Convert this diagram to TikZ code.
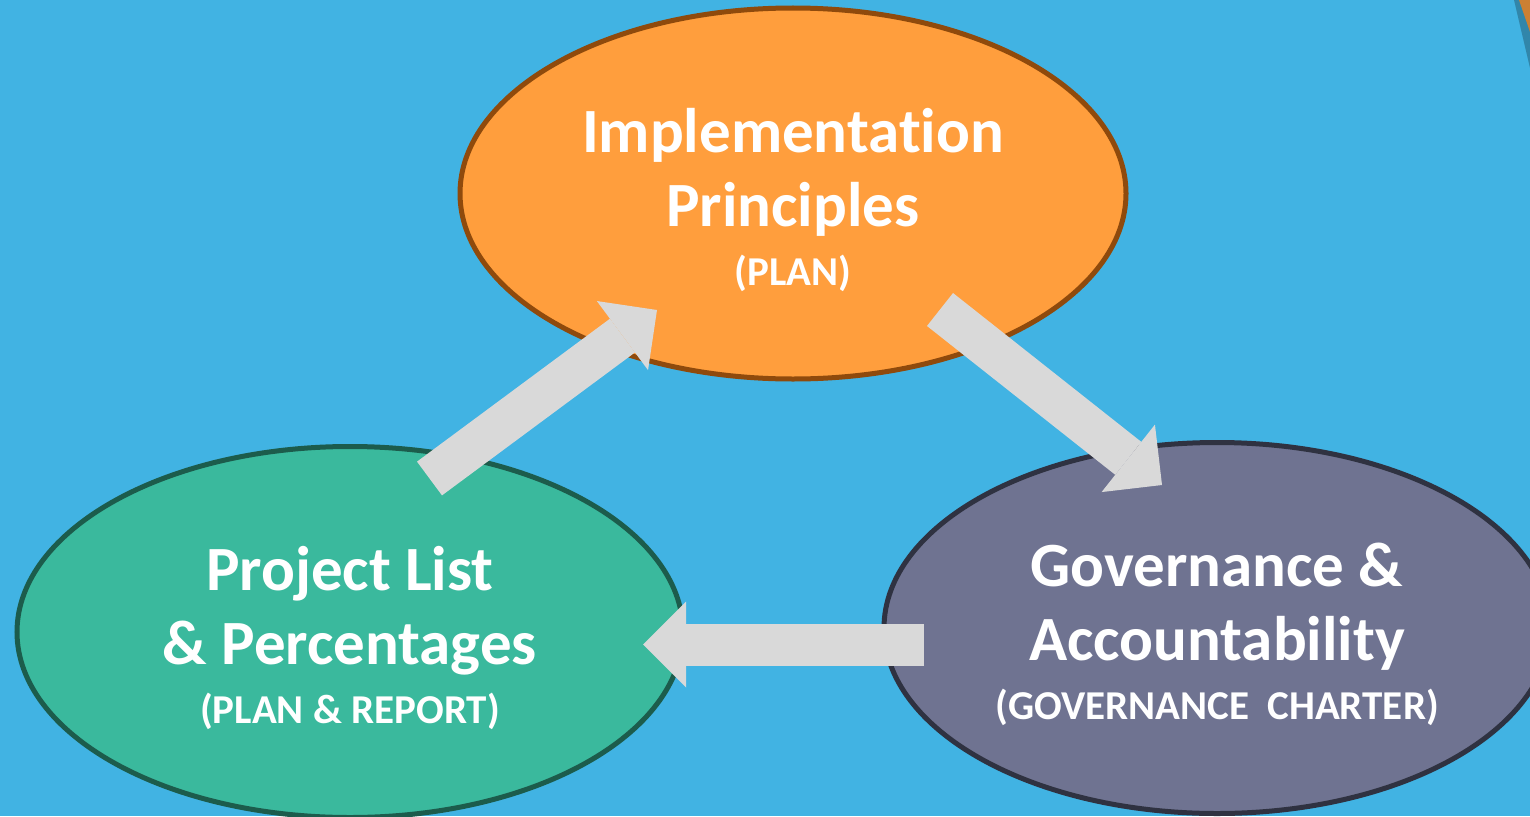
\documentclass[tikz,border=0pt]{standalone}
\usepackage{fontspec}
\setmainfont[Ligatures=NoCommon]{Carlito}
\usetikzlibrary{calc, shapes.geometric, arrows.meta, positioning}

\definecolor{skyblue}{HTML}{41B3E3}
\definecolor{planorange}{HTML}{FF9E3D}
\definecolor{planedge}{HTML}{8F4A0C}
\definecolor{projgreen}{HTML}{3AB99D}
\definecolor{projedge}{HTML}{1C5C4C}
\definecolor{govpurple}{HTML}{6F7391}
\definecolor{govedge}{HTML}{2F3241}
\definecolor{arrowgrey}{HTML}{D9D9D9}

\newcommand{\bigtxt}{\fontsize{63}{74}\selectfont\bfseries}
\newcommand{\smalltxt}{\fontsize{41}{48}\selectfont\bfseries}

\tikzset{
  stage/.style={ellipse, line width=5pt, minimum width=666pt, minimum height=371pt},
  stagetext/.style={text=white, align=center, font=\bigtxt, inner sep=0pt, yshift=-6pt},
  blockarrow/.style={draw=arrowgrey, line width=42pt,
    -{Triangle[length=43pt, width=86pt, line width=0pt]}}
}

\begin{document}
\begin{tikzpicture}[x=1pt, y=-1pt]
\useasboundingbox (0,0) rectangle (1530,816);
\clip (0,0) rectangle (1530,816);
\fill[skyblue] (0,0) rectangle (1530,816);

% corner fragment
\fill[skyblue!75!black] (1514,0) -- (1530,0) -- (1530,68) -- cycle;
\fill[brown!80!orange] (1519,0) -- (1530,0) -- (1530,32) -- cycle;

% the three stages
\node[stage, fill=planorange, draw=planedge] (plan) at (793,193.5) {};
\node[stage, fill=projgreen, draw=projedge] (proj) at (350,632) {};
\node[stage, fill=govpurple, draw=govedge] (gov) at (1217,628) {};

\node[stagetext] (plantxt) at (plan)
  {Implementation\\Principles\\[-15pt]{\smalltxt (PLAN)}};
\node[stagetext] (projtxt) at (proj)
  {Project List\\\& Percentages\\[-15pt]{\smalltxt (PLAN \& REPORT)}};
\node[stagetext] (govtxt) at (gov)
  {Governance \&\\Accountability\\[-15pt]{\smalltxt (GOVERNANCE\ \ CHARTER)}};

% arrows
\coordinate (tailA) at (429.5,478.5);
\coordinate (tipA) at (657,310);
\coordinate (tailB) at (940,309.5);
\coordinate (tipB) at (1162,485);
\coordinate (tailC) at (924,644.5);
\coordinate (tipC) at (643,644.5);
\draw[blockarrow] (tailA) -- (tipA);
\draw[blockarrow] (tailB) -- (tipB);
\draw[blockarrow] (tailC) -- (tipC);
\end{tikzpicture}
\end{document}
